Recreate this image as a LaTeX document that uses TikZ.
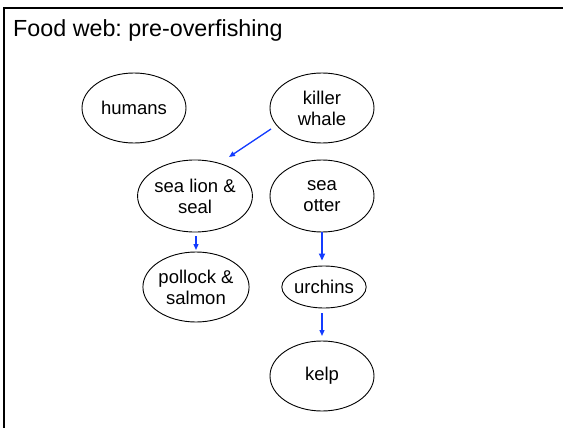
\documentclass[tikz,border=0pt]{standalone}
\usepackage{fontspec}
\setmainfont{Liberation Sans}
\usetikzlibrary{shapes.geometric,arrows.meta}
\definecolor{arrowblue}{RGB}{20,60,255}
\frenchspacing
\begin{document}
\begin{tikzpicture}[x=1pt,y=-1pt,
  species/.style={draw=black, line width=0.9pt, ellipse, inner sep=0pt,
    minimum width=104pt, minimum height=70pt, align=center,
    font=\fontsize{18.5}{21}\selectfont},
  eats/.style={draw=arrowblue, line width=1.3pt, -{Triangle[length=6pt,width=5pt]}},
  eatsbold/.style={eats, line width=2pt, -{Triangle[length=7pt,width=6pt]}}]
\useasboundingbox (0,0) rectangle (563,428);
\draw[line width=2.5pt, line join=miter] (4,430) -- (4,8) -- (565,8);
\node[anchor=base west, inner sep=0pt, font=\fontsize{23.3}{28}\selectfont] (title) at (13,37) {Food web: pre-overfishing};
\node[species] (humans) at (134,108) {humans};
\node[species] (kw) at (322,108) {killer\\whale};
\node[species, minimum height=72pt] (sl) at (195,196) {sea lion \&\\seal};
\node[species, minimum height=72pt] (so) at (322,196) {sea\\otter};
\node[species, minimum width=102pt] (ps) at (196,287) {pollock \&\\salmon};
\node[species, minimum width=71pt, minimum height=42pt] (ur) at (324,287) {urchins};
\node[species] (kelp) at (322,376) {kelp};
\coordinate (kwout) at (271,129);
\coordinate (slin) at (229,157);
\coordinate (slout) at (196,236);
\coordinate (psin) at (196,250);
\coordinate (urout) at (322,313);
\coordinate (kelpin) at (322,336);
\draw[eats] (kwout) -- (slin);
\draw[eats] (slout) -- (psin);
\draw[eatsbold, shorten >=5pt] (so.south) -- (so.south |- ur.north);
\draw[eats] (urout) -- (kelpin);
\end{tikzpicture}
\end{document}
